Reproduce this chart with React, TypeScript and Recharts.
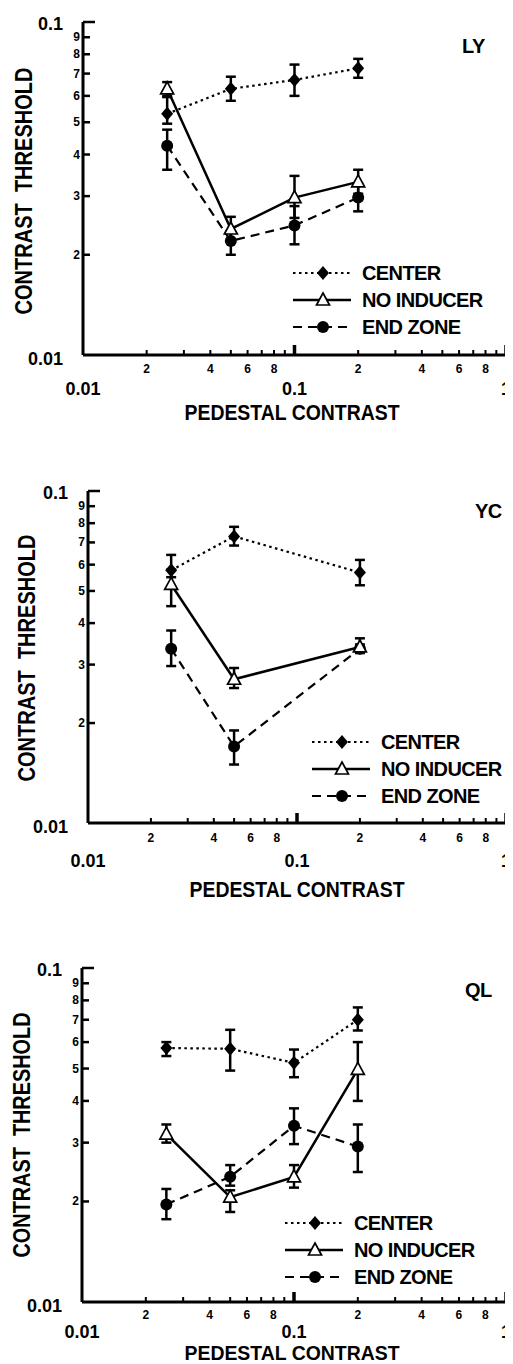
import React from "react";
import { LineChart, Line, XAxis, YAxis, ErrorBar, Legend, Customized } from "recharts";

const FONT = '"Liberation Sans", Arial, Helvetica, sans-serif';

// ---------- axis ticks ----------
const xTicks = [0.01, 0.02, 0.03, 0.04, 0.05, 0.06, 0.07, 0.08, 0.09, 0.1, 0.2, 0.3, 0.4, 0.5, 0.6, 0.7, 0.8, 0.9, 1];
const xMinorLabels = ["", "2", "", "4", "", "6", "", "8", "", "", "2", "", "4", "", "6", "", "8", "", ""];
const xMajorLabels = ["0.01", "", "", "", "", "", "", "", "", "0.1", "", "", "", "", "", "", "", "", "1"];
const yTicks = [0.01, 0.02, 0.03, 0.04, 0.05, 0.06, 0.07, 0.08, 0.09, 0.1];
const yTickLabels = ["0.01", "2", "3", "4", "5", "6", "7", "8", "9", "0.1"];

const seriesNames = ["CENTER", "NO INDUCER", "END ZONE"];
const subjects = ["LY", "YC", "QL"];
const xTitle = "PEDESTAL CONTRAST";
const yTitle = "CONTRAST  THRESHOLD";

// ---------- LY ----------
const lyX = [0.025, 0.05, 0.1, 0.2];
const lyCenter = [0.053, 0.063, 0.067, 0.0726];
const lyCenterLo = [0.0495, 0.058, 0.06, 0.068];
const lyCenterHi = [0.0595, 0.0685, 0.0745, 0.0775];
const lyNone = [0.063, 0.0239, 0.0297, 0.0331];
const lyNoneLo = [0.06, 0.022, 0.0258, 0.0305];
const lyNoneHi = [0.066, 0.026, 0.0345, 0.036];
const lyEnd = [0.0425, 0.022, 0.0245, 0.0297];
const lyEndLo = [0.036, 0.02, 0.0215, 0.027];
const lyEndHi = [0.0475, 0.0235, 0.028, 0.0328];

// ---------- YC ----------
const ycX = [0.025, 0.05, 0.2];
const ycCenter = [0.0577, 0.073, 0.0568];
const ycCenterLo = [0.055, 0.0685, 0.052];
const ycCenterHi = [0.0642, 0.078, 0.062];
const ycNone = [0.0523, 0.0271, 0.0339];
const ycNoneLo = [0.045, 0.0255, 0.033];
const ycNoneHi = [0.058, 0.0293, 0.036];
const ycEnd = [0.0335, 0.017, 0.0335];
const ycEndLo = [0.0297, 0.015, 0.0325];
const ycEndHi = [0.038, 0.019, 0.0345];

// ---------- QL ----------
const qlX = [0.025, 0.05, 0.1, 0.2];
const qlCenter = [0.0576, 0.0573, 0.052, 0.07];
const qlCenterLo = [0.0545, 0.0493, 0.0471, 0.065];
const qlCenterHi = [0.06, 0.0653, 0.057, 0.0762];
const qlNone = [0.0318, 0.0206, 0.0237, 0.0497];
const qlNoneLo = [0.03, 0.0186, 0.022, 0.04];
const qlNoneHi = [0.034, 0.0216, 0.0257, 0.06];
const qlEnd = [0.0196, 0.0237, 0.0337, 0.0292];
const qlEndLo = [0.0177, 0.0223, 0.0297, 0.0245];
const qlEndHi = [0.0218, 0.0257, 0.038, 0.034];

function makeRows(xs: number[], c: number[], cLo: number[], cHi: number[], n: number[], nLo: number[], nHi: number[], e: number[], eLo: number[], eHi: number[]) {
  return xs.map((x, i) => ({
    x,
    center: c[i],
    centerErr: [c[i] - cLo[i], cHi[i] - c[i]],
    none: n[i],
    noneErr: [n[i] - nLo[i], nHi[i] - n[i]],
    end: e[i],
    endErr: [e[i] - eLo[i], eHi[i] - e[i]],
  }));
}

const panelsData = [
  makeRows(lyX, lyCenter, lyCenterLo, lyCenterHi, lyNone, lyNoneLo, lyNoneHi, lyEnd, lyEndLo, lyEndHi),
  makeRows(ycX, ycCenter, ycCenterLo, ycCenterHi, ycNone, ycNoneLo, ycNoneHi, ycEnd, ycEndLo, ycEndHi),
  makeRows(qlX, qlCenter, qlCenterLo, qlCenterHi, qlNone, qlNoneLo, qlNoneHi, qlEnd, qlEndLo, qlEndHi),
];

// ---------- layout (positions only) ----------
const layouts = [
  {
    top: 0, height: 460, margin: { top: 22, left: 81, right: 7, bottom: 103 },
    minorDy: 18, majorDy: 40,
    yTitle: { x: 32, y: 191, len: 247 }, xTitle: { x: 292, y: 420, size: 22 },
    subj: { x: 462, y: 53 }, legend: { left: 290, top: 260 },
  },
  {
    top: 460, height: 460, margin: { top: 31, left: 86, right: 7, bottom: 95 },
    minorDy: 19, majorDy: 44,
    yTitle: { x: 35, y: 198, len: 247 }, xTitle: { x: 297, y: 437, size: 22 },
    subj: { x: 475, y: 58 }, legend: { left: 309, top: 269 },
  },
  {
    top: 920, height: 444, margin: { top: 48, left: 80, right: 7, bottom: 60 },
    minorDy: 17, majorDy: 36,
    yTitle: { x: 30, y: 215, len: 245 }, xTitle: { x: 292, y: 440, size: 20 },
    subj: { x: 465, y: 77 }, legend: { left: 282, top: 290 },
  },
];

// ---------- tick renderers ----------
const XTick = (props: any) => {
  const { x, y, payload, minorDy, majorDy } = props;
  const v = payload.value;
  const i = xTicks.indexOf(v);
  const isMajor = xMajorLabels[i] !== "";
  const len = isMajor ? 10 : 5;
  return (
    <g fontFamily={FONT} fontWeight="bold" fill="#000">
      {v !== 0.01 && <line x1={x} x2={x} y1={y} y2={y - len} stroke="#000" strokeWidth={isMajor ? 3.5 : 2} />}
      {xMinorLabels[i] && (
        <text x={x} y={y + minorDy} textAnchor="middle" fontSize={12}>{xMinorLabels[i]}</text>
      )}
      {isMajor && (
        <text x={x} y={y + majorDy} textAnchor="middle" fontSize={18}>{xMajorLabels[i]}</text>
      )}
    </g>
  );
};

const YTick = (props: any) => {
  const { x, y, payload } = props;
  const v = payload.value;
  const i = yTicks.indexOf(v);
  const label = yTickLabels[i];
  const isMajor = v === 0.01 || v === 0.1;
  return (
    <g fontFamily={FONT} fontWeight="bold" fill="#000">
      {v !== 0.01 && <line x1={x} x2={x + (v === 0.1 ? 12 : 7)} y1={y} y2={y} stroke="#000" strokeWidth={2.5} />}
      {isMajor ? (
        <text x={x - 20} y={y + (v === 0.1 ? 8 : 10)} textAnchor="end" fontSize={18}>{label}</text>
      ) : (
        <text x={x - 3} y={y + 4} textAnchor="end" fontSize={12}>{label}</text>
      )}
    </g>
  );
};

// ---------- markers ----------
const diamondPath = (cx: number, cy: number) => `M${cx},${cy - 7}L${cx + 6},${cy}L${cx},${cy + 7}L${cx - 6},${cy}Z`;
const trianglePath = (cx: number, cy: number) => `M${cx},${cy - 7}L${cx + 6.5},${cy + 5}L${cx - 6.5},${cy + 5}Z`;

const DiamondDot = (p: any) => {
  if (p.cx == null || p.cy == null) return <g key={`dd${p.index}`} />;
  return <path key={`dd${p.index}`} d={diamondPath(p.cx, p.cy)} fill="#000" />;
};
const TriangleDot = (p: any) => {
  if (p.cx == null || p.cy == null) return <g key={`td${p.index}`} />;
  return <path key={`td${p.index}`} d={trianglePath(p.cx, p.cy)} fill="#fff" stroke="#000" strokeWidth={1.7} />;
};
const CircleDot = (p: any) => {
  if (p.cx == null || p.cy == null) return <g key={`cd${p.index}`} />;
  return <circle key={`cd${p.index}`} cx={p.cx} cy={p.cy} r={6} fill="#000" />;
};

const seriesStyle: Record<string, { dash?: string; width: number; marker: string }> = {
  center: { dash: "2.5 3.5", width: 2.2, marker: "diamond" },
  none: { width: 2.5, marker: "triangle" },
  end: { dash: "9 6", width: 2.2, marker: "circle" },
};

const LegendContent = (props: any) => {
  const payload = props.payload || [];
  const order = ["center", "none", "end"];
  return (
    <svg width={230} height={84} style={{ overflow: "visible", display: "block" }}>
      {order.map((key, i) => {
        const entry = payload.find((p: any) => p.dataKey === key);
        const name = entry ? entry.value : seriesNames[i];
        const st = seriesStyle[key];
        const y = 13 + i * 27;
        const mx = 33;
        return (
          <g key={key}>
            <line x1={3} x2={61} y1={y} y2={y} stroke="#000" strokeWidth={st.width} strokeDasharray={st.dash} />
            {st.marker === "diamond" && <path d={diamondPath(mx, y)} fill="#000" />}
            {st.marker === "triangle" && <path d={trianglePath(mx, y)} fill="#fff" stroke="#000" strokeWidth={1.7} />}
            {st.marker === "circle" && <circle cx={mx} cy={y} r={6} fill="#000" />}
            <text x={72} y={y + 7} fontFamily={FONT} fontWeight="bold" fontSize={20} letterSpacing={-0.6} fill="#000">{name}</text>
          </g>
        );
      })}
    </svg>
  );
};

function Panel({ idx }: { idx: number }) {
  const L = layouts[idx];
  const rows = panelsData[idx];
  return (
    <div style={{ position: "absolute", left: 0, top: L.top }}>
      <LineChart width={513} height={L.height} data={rows} margin={L.margin}>
        <XAxis
          dataKey="x" type="number" scale="log" domain={[0.01, 1]} ticks={xTicks} interval={0}
          allowDataOverflow height={2} tickSize={0} tickMargin={0} tickLine={false}
          axisLine={{ stroke: "#000", strokeWidth: 3 }}
          tick={<XTick minorDy={L.minorDy} majorDy={L.majorDy} />}
        />
        <YAxis
          type="number" scale="log" domain={[0.01, 0.1]} ticks={yTicks} interval={0}
          allowDataOverflow width={2} tickSize={0} tickMargin={0} tickLine={false}
          axisLine={{ stroke: "#000", strokeWidth: 3 }}
          tick={<YTick />}
        />
        <Line dataKey="end" name={seriesNames[2]} stroke="#000" strokeWidth={2.2} strokeDasharray="9 6"
          dot={CircleDot} activeDot={false} isAnimationActive={false}>
          <ErrorBar dataKey="endErr" direction="y" width={5} stroke="#000" strokeWidth={2.5} isAnimationActive={false} />
        </Line>
        <Line dataKey="none" name={seriesNames[1]} stroke="#000" strokeWidth={2.5}
          dot={TriangleDot} activeDot={false} isAnimationActive={false}>
          <ErrorBar dataKey="noneErr" direction="y" width={5} stroke="#000" strokeWidth={2.5} isAnimationActive={false} />
        </Line>
        <Line dataKey="center" name={seriesNames[0]} stroke="#000" strokeWidth={2.2} strokeDasharray="2.5 3.5"
          dot={DiamondDot} activeDot={false} isAnimationActive={false}>
          <ErrorBar dataKey="centerErr" direction="y" width={5} stroke="#000" strokeWidth={2.5} isAnimationActive={false} />
        </Line>
        <Legend
          layout="vertical" align="center" verticalAlign="middle" content={<LegendContent />}
          wrapperStyle={{ left: L.legend.left, top: L.legend.top, width: 230, height: 84 }}
        />
        <Customized
          component={() => (
            <g fontFamily={FONT} fontWeight="bold" fill="#000">
              <text
                transform={`translate(${L.yTitle.x},${L.yTitle.y}) rotate(-90)`}
                textAnchor="middle" fontSize={23} textLength={L.yTitle.len} lengthAdjust="spacingAndGlyphs"
                style={{ whiteSpace: "pre" }}
              >{yTitle}</text>
              <text x={L.xTitle.x} y={L.xTitle.y} textAnchor="middle" fontSize={L.xTitle.size} textLength={215} lengthAdjust="spacingAndGlyphs">{xTitle}</text>
              <text x={L.subj.x} y={L.subj.y} fontSize={20} letterSpacing={-0.5}>{subjects[idx]}</text>
            </g>
          )}
        />
      </LineChart>
    </div>
  );
}

export default function App() {
  return (
    <div style={{ position: "relative", width: 513, height: 1364, marginLeft: -8, marginTop: -8, background: "#fff" }}>
      <Panel idx={0} />
      <Panel idx={1} />
      <Panel idx={2} />
    </div>
  );
}
